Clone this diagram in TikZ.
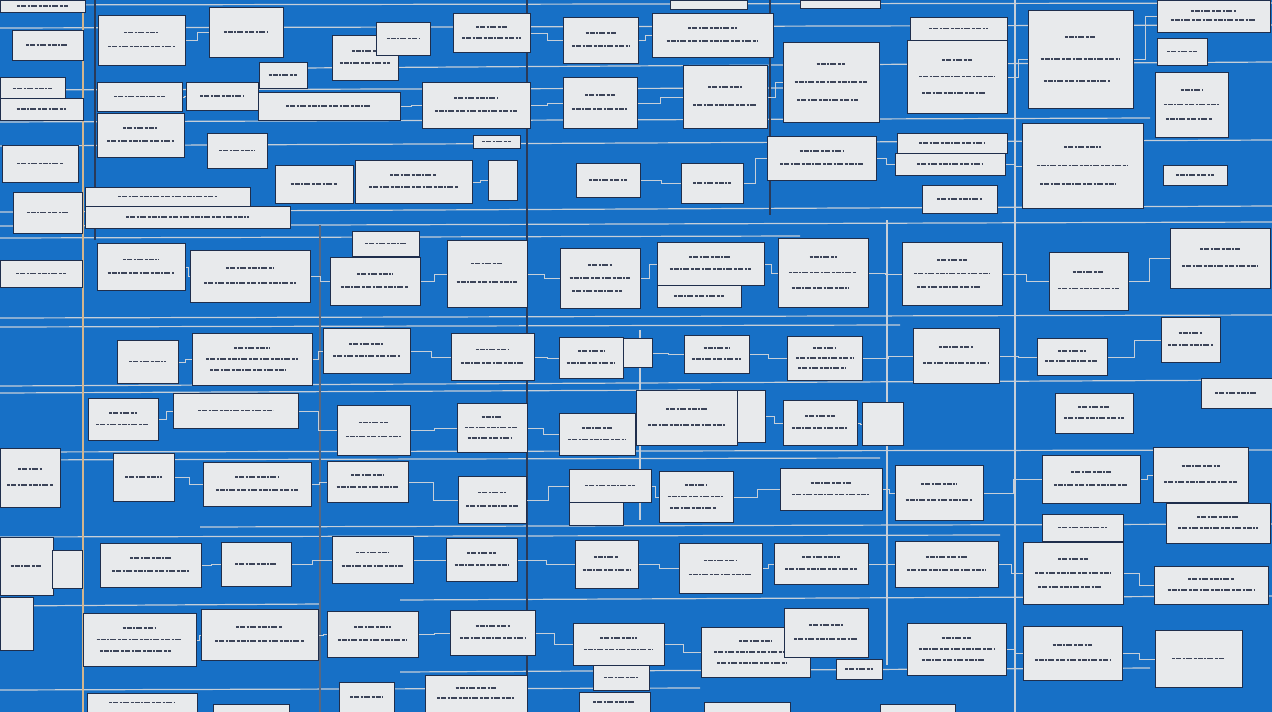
\documentclass[tikz,border=0pt]{standalone}
\usetikzlibrary{backgrounds,calc}

\definecolor{bgblue}{HTML}{1770C6}
\definecolor{cardfill}{HTML}{E8EAEC}
\definecolor{cardedge}{HTML}{1F2E4C}
\definecolor{wirelight}{HTML}{C6CFD9}
\definecolor{wiredark}{HTML}{2A3A58}
\definecolor{wiretan}{HTML}{D2B58E}
\definecolor{inkgray}{HTML}{3C4459}

\tikzset{
  card/.style={draw=cardedge, fill=cardfill, line width=1.3pt, inner sep=0pt, rectangle},
  scrib/.style={inkgray, line width=1.9pt, dash pattern=on 3pt off 1pt on 5pt off 1.5pt on 2pt off 1pt on 6pt off 2pt},
  wire/.style={wirelight, line width=1.2pt},
  railV/.style={wiredark, line width=1.4pt},
  railT/.style={wiretan, line width=1.3pt},
  link/.style={wirelight, line width=1.3pt}
}

% card: name, left, top, right, bottom, number of scribbled lines
\newcommand\card[6]{%
  \node[card, anchor=north west, minimum width={(#4-#2)*1pt}, minimum height={(#5-#3)*1pt}] (#1) at (#2,#3) {};
  \ifcase#6\relax
  \or
    \draw[scrib] ({#2+0.2*(#4-#2)},{#3+0.5*(#5-#3)}) -- ({#2+0.8*(#4-#2)},{#3+0.5*(#5-#3)});
  \or
    \draw[scrib] ({#2+0.3*(#4-#2)},{#3+0.35*(#5-#3)}) -- ({#2+0.7*(#4-#2)},{#3+0.35*(#5-#3)});
    \draw[scrib] ({#2+0.12*(#4-#2)},{#3+0.63*(#5-#3)}) -- ({#2+0.88*(#4-#2)},{#3+0.63*(#5-#3)});
  \or
    \draw[scrib] ({#2+0.35*(#4-#2)},{#3+0.28*(#5-#3)}) -- ({#2+0.65*(#4-#2)},{#3+0.28*(#5-#3)});
    \draw[scrib] ({#2+0.12*(#4-#2)},{#3+0.5*(#5-#3)}) -- ({#2+0.88*(#4-#2)},{#3+0.5*(#5-#3)});
    \draw[scrib] ({#2+0.15*(#4-#2)},{#3+0.72*(#5-#3)}) -- ({#2+0.78*(#4-#2)},{#3+0.72*(#5-#3)});
  \fi
}

\begin{document}
\begin{tikzpicture}[x=1pt, y=-1pt]
\useasboundingbox (0,0) rectangle (1272,712);

\begin{scope}[on background layer]
  \fill[bgblue] (0,0) rectangle (1272,712);
  % long horizontal wires
  \draw[wire] (0,5) -- (1272,3);
  \draw[wire] (0,28) -- (1272,25);
  \draw[wire] (300,68) -- (1272,62);
  \draw[wire] (0,90) -- (800,88);
  \draw[wire] (0,122) -- (1150,118);
  \draw[wire] (0,146) -- (1272,140);
  \draw[wire] (0,212) -- (1272,206);
  \draw[wire] (0,226) -- (1272,222);
  \draw[wire] (0,238) -- (800,236);
  \draw[wire] (0,318) -- (1272,315);
  \draw[wire] (0,327) -- (900,325);
  \draw[wire] (0,386) -- (1272,380);
  \draw[wire] (0,393) -- (700,390);
  \draw[wire] (0,452) -- (1272,450);
  \draw[wire] (0,460) -- (880,458);
  \draw[wire] (200,527) -- (1272,524);
  \draw[wire] (0,537) -- (1000,535);
  \draw[wire] (400,600) -- (1272,596);
  \draw[wire] (0,606) -- (320,604);
  \draw[wire] (400,672) -- (1150,668);
  \draw[wire] (0,690) -- (700,688);
  % vertical rails
  \draw[railT] (83,0) -- (83,712);
  \draw[railV] (95,0) -- (95,240);
  \draw[railV, wiredark!70!wirelight] (320,225) -- (320,712);
  \draw[railV] (527,0) -- (527,712);
  \draw[railV] (770,0) -- (770,215);
  \draw[wire] (640,330) -- (640,520);
  \draw[wire, line width=1.6pt] (887,220) -- (887,665);
  \draw[wire, line width=1.6pt] (1015,0) -- (1015,712);
\end{scope}

% top band
\card{t1}{0}{0}{85}{12}{1}
\card{t2}{12}{30}{83}{60}{1}
\card{t3}{98}{15}{185}{65}{2}
\card{t4}{209}{7}{283}{57}{1}
\card{t5}{332}{35}{398}{80}{2}
\card{t6}{376}{22}{430}{55}{1}
\card{t7}{453}{13}{530}{52}{2}
\card{t8}{563}{17}{638}{63}{2}
\card{t9}{652}{13}{773}{57}{2}
\card{t10}{670}{0}{747}{9}{0}
\card{t11}{800}{0}{880}{8}{0}
\card{t12}{910}{17}{1007}{40}{1}
\card{t13}{907}{40}{1007}{113}{3}
\card{t14}{1028}{10}{1133}{108}{3}
\card{t15}{1157}{0}{1270}{32}{2}
\card{t16}{1157}{38}{1207}{65}{1}
% second band
\card{s1}{0}{77}{65}{100}{1}
\card{s2}{0}{98}{83}{120}{1}
\card{s3}{97}{82}{182}{111}{1}
\card{s4}{97}{113}{184}{157}{2}
\card{s5}{186}{82}{258}{110}{1}
\card{s6}{259}{62}{307}{88}{1}
\card{s7}{258}{92}{400}{120}{1}
\card{s8}{422}{82}{530}{128}{2}
\card{s9}{563}{77}{637}{128}{2}
\card{s10}{683}{65}{767}{128}{2}
\card{s11}{783}{42}{879}{122}{3}
\card{s12}{1155}{72}{1228}{137}{3}
% third band
\card{r1}{2}{145}{78}{182}{1}
\card{r2}{207}{133}{267}{168}{1}
\card{r3}{473}{135}{520}{148}{1}
\card{r4}{275}{165}{353}{203}{1}
\card{r5}{355}{160}{472}{203}{2}
\card{r6}{488}{160}{517}{200}{0}
\card{r7}{576}{163}{640}{197}{1}
\card{r8}{681}{163}{743}{203}{1}
\card{r9}{767}{136}{876}{180}{2}
\card{r10}{897}{133}{1007}{153}{1}
\card{r11}{895}{153}{1005}{175}{1}
\card{r12}{1022}{123}{1143}{208}{3}
\card{r13}{922}{185}{997}{213}{1}
\card{r14}{1163}{165}{1227}{185}{1}
\card{r15}{13}{192}{82}{233}{1}
\card{r16}{85}{187}{250}{206}{1}
\card{r17}{85}{206}{290}{228}{1}
% fourth band
\card{q1}{0}{260}{82}{287}{1}
\card{q2}{97}{243}{185}{290}{2}
\card{q3}{190}{250}{310}{302}{2}
\card{q4}{352}{231}{419}{256}{1}
\card{q5}{330}{257}{420}{305}{2}
\card{q6}{447}{240}{527}{307}{2}
\card{q7}{560}{248}{640}{308}{3}
\card{q8}{657}{242}{764}{285}{2}
\card{q9}{657}{285}{741}{307}{1}
\card{q10}{778}{238}{868}{307}{3}
\card{q11}{902}{242}{1002}{305}{3}
\card{q12}{1049}{252}{1128}{310}{2}
\card{q13}{1170}{228}{1270}{288}{2}
% fifth band
\card{p1}{117}{340}{178}{383}{1}
\card{p2}{192}{333}{312}{385}{3}
\card{p3}{323}{328}{410}{373}{2}
\card{p4}{451}{333}{534}{380}{2}
\card{p5}{559}{337}{623}{378}{2}
\card{p6}{623}{338}{652}{367}{0}
\card{p7}{684}{335}{749}{373}{2}
\card{p8}{787}{336}{862}{380}{3}
\card{p9}{913}{328}{999}{383}{2}
\card{p10}{1037}{338}{1107}{375}{2}
\card{p11}{1161}{317}{1220}{362}{2}
\card{p12}{1201}{378}{1272}{408}{1}
% sixth band
\card{o1}{88}{398}{158}{440}{2}
\card{o2}{173}{393}{298}{428}{1}
\card{o3}{337}{405}{410}{455}{2}
\card{o4}{457}{403}{527}{452}{3}
\card{o5}{559}{413}{635}{455}{2}
\card{o6}{636}{390}{737}{445}{2}
\card{o7}{737}{390}{765}{442}{0}
\card{o8}{783}{400}{857}{445}{2}
\card{o9}{862}{402}{903}{445}{0}
\card{o10}{1055}{393}{1133}{433}{2}
% seventh band
\card{n1}{0}{448}{60}{507}{2}
\card{n2}{113}{453}{174}{501}{1}
\card{n3}{203}{462}{311}{506}{2}
\card{n4}{327}{461}{408}{502}{2}
\card{n5}{458}{476}{526}{523}{2}
\card{n6}{569}{469}{651}{502}{1}
\card{n7}{569}{502}{623}{525}{0}
\card{n8}{659}{471}{733}{522}{3}
\card{n9}{780}{468}{882}{510}{2}
\card{n10}{895}{465}{983}{520}{2}
\card{n11}{1042}{455}{1140}{503}{2}
\card{n12}{1153}{447}{1248}{502}{2}
\card{n13}{1166}{503}{1270}{543}{2}
\card{n14}{1042}{514}{1123}{541}{1}
% eighth band
\card{m1}{0}{537}{53}{595}{1}
\card{m2}{52}{550}{82}{588}{0}
\card{m3}{100}{543}{201}{587}{2}
\card{m4}{221}{542}{291}{586}{1}
\card{m5}{332}{536}{413}{583}{2}
\card{m6}{446}{538}{517}{581}{2}
\card{m7}{575}{540}{638}{588}{2}
\card{m8}{679}{543}{762}{593}{2}
\card{m9}{774}{543}{868}{584}{2}
\card{m10}{895}{541}{998}{587}{2}
\card{m11}{1023}{542}{1123}{604}{3}
\card{m12}{1154}{566}{1268}{604}{2}
% ninth band
\card{l1}{0}{597}{33}{650}{0}
\card{l2}{83}{613}{196}{666}{3}
\card{l3}{201}{609}{318}{660}{2}
\card{l4}{327}{611}{418}{657}{2}
\card{l5}{450}{610}{535}{655}{2}
\card{l6}{573}{623}{664}{665}{2}
\card{l7}{593}{665}{649}{690}{1}
\card{l8}{701}{627}{810}{677}{3}
\card{l9}{784}{608}{868}{657}{2}
\card{l10}{836}{659}{882}{679}{1}
\card{l11}{907}{623}{1006}{675}{3}
\card{l12}{1023}{626}{1122}{680}{2}
\card{l13}{1155}{630}{1242}{687}{1}
% bottom band
\card{k1}{87}{693}{197}{712}{1}
\card{k2}{213}{704}{289}{712}{0}
\card{k3}{339}{682}{394}{712}{1}
\card{k4}{425}{675}{527}{712}{2}
\card{k5}{579}{692}{650}{712}{1}
\card{k6}{704}{702}{790}{712}{0}
\card{k7}{880}{704}{955}{712}{0}

% stepped links between neighbouring cards
\begin{scope}[on background layer]
  \foreach \a/\b in {t3/t4, t7/t8, t8/t9, t13/t14, t14/t15,
      s3/s5, s7/s8, s8/s9, s9/s10, s10/s11,
      r5/r6, r7/r8, r8/r9, r9/r11, r11/r12,
      q2/q3, q3/q5, q5/q6, q6/q7, q7/q8, q8/q10, q10/q11, q11/q12, q12/q13,
      p1/p2, p2/p3, p3/p4, p4/p5, p6/p7, p7/p8, p8/p9, p9/p10, p10/p11,
      o1/o2, o2/o3, o3/o4, o4/o5, o7/o8, o8/o9,
      n2/n3, n3/n4, n4/n5, n5/n6, n6/n8, n8/n9, n9/n10, n10/n11, n11/n12,
      m3/m4, m4/m5, m5/m6, m6/m7, m7/m8, m8/m9, m9/m10, m10/m11, m11/m12,
      l2/l3, l3/l4, l4/l5, l5/l6, l6/l8, l11/l12, l12/l13}
    \draw[link] (\a.east) -| ($(\a.east)!.5!(\b.west)$) |- (\b.west);
\end{scope}
\end{tikzpicture}
\end{document}
